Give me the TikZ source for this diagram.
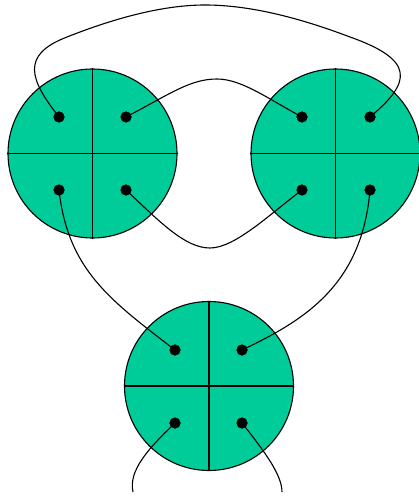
\documentclass[tikz,border=0pt]{standalone}
\begin{document}
\begin{tikzpicture}[x=1pt,y=-1pt,line width=1.1pt,
  disk/.style={circle,draw=black,fill={rgb,255:red,0;green,204;blue,153},minimum size=169pt,inner sep=0pt},
  port/.style={circle,fill=black,minimum size=11pt,inner sep=0pt},
  wire/.style={draw=black,line width=1.1pt}]
\useasboundingbox (0,0) rectangle (419,497);
% disks
\node[disk] (L) at (92.5,153.5) {};
\node[disk] (R) at (335.5,153.5) {};
\node[disk] (B) at (209,386) {};
\foreach \n in {L,R,B}{
  \draw (\n.north) -- (\n.south);
  \draw (\n.west) -- (\n.east);
}
% ports
\node[port] (a1) at (59,117) {};
\node[port] (a2) at (126,117) {};
\node[port] (a3) at (59,190) {};
\node[port] (a4) at (126,190) {};
\node[port] (b1) at (302,117) {};
\node[port] (b2) at (370,117) {};
\node[port] (b3) at (302,190) {};
\node[port] (b4) at (370,190) {};
\node[port] (c1) at (175,350) {};
\node[port] (c2) at (242,350) {};
\node[port] (c3) at (175,423) {};
\node[port] (c4) at (242,423) {};
\coordinate (e1) at (133,492);
\coordinate (e2) at (282,492);
% wires
\begin{scope}[on background layer/.style={}]
\path[wire] (a1.center) .. controls (30,80) and (20,55) .. (67,37)
   .. controls (110,20) and (160,5) .. (205,5)
   .. controls (250,5) and (300,18) .. (350,37)
   .. controls (415,60) and (412,82) .. (b2.center);
\path[wire] (a2.center) .. controls (170,94) and (190,79) .. (217,79)
   .. controls (242,79) and (270,100) .. (b1.center);
\path[wire] (a4.center) .. controls (160,222) and (185,248) .. (210,248)
   .. controls (235,248) and (270,214) .. (b3.center);
\path[wire] (a3.center) .. controls (68,270) and (110,300) .. (c1.center);
\path[wire] (b4.center) .. controls (362,285) and (305,320) .. (c2.center);
\path[wire] (c3.center) .. controls (150,447) and (128,470) .. (e1);
\path[wire] (c4.center) .. controls (265,452) and (282,475) .. (e2);
\end{scope}
% redraw ports on top
\foreach \p in {a1,a2,a3,a4,b1,b2,b3,b4,c1,c2,c3,c4}{
  \fill (\p.center) circle (5.5pt);
}
\end{tikzpicture}
\end{document}
